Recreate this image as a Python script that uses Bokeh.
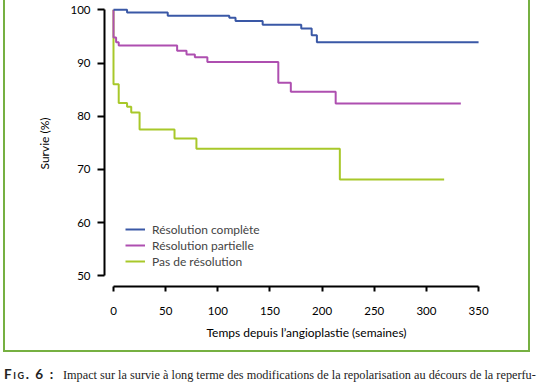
from bokeh.plotting import figure
from bokeh.models import Legend, LegendItem, FixedTicker, Range1d, Div
from bokeh.layouts import column
from bokeh.embed import file_html
from bokeh.resources import INLINE

# ---- data ----
complete_t = [0, 13, 52, 111, 117, 143, 180, 190, 195, 350]
complete_s = [100, 99.5, 98.9, 98.5, 97.9, 97.2, 96.5, 95.2, 93.9, 93.9]

partial_t = [0, 0, 2.5, 5, 61, 70, 78, 90, 158, 170, 213, 333]
partial_s = [100, 94.8, 93.9, 93.3, 92.3, 91.6, 91.1, 90.2, 86.3, 84.6, 82.4, 82.4]

none_t = [0, 0, 5, 13, 17, 25, 58.5, 79.5, 217, 317]
none_s = [100, 86.0, 82.5, 81.8, 80.7, 77.5, 75.8, 73.9, 68.1, 68.1]

series_labels = ["Résolution complète", "Résolution partielle", "Pas de résolution"]
x_ticks = [0, 50, 100, 150, 200, 250, 300, 350]
y_ticks = [50, 60, 70, 80, 90, 100]
x_title = "Temps depuis l’angioplastie (semaines)"
y_title = "Survie (%)"
caption_head = "Fig. 6 :"
caption_body = "Impact sur la survie à long terme des modifications de la repolarisation au décours de la reperfu-"

BLUE = "#3a58a6"
PURPLE = "#ae4fb0"
GREEN = "#a8c82a"
FRAME = "#76b041"
FONT = "Lato"

p = figure(width=527, height=352, output_backend="svg", toolbar_location=None,
           x_range=Range1d(-8.63, 378.7), y_range=Range1d(47.99, 101.75),
           min_border_left=99, min_border_right=24, min_border_top=0, min_border_bottom=66,
           styles={"margin-left": "3px",
                   "border-left": f"2px solid {FRAME}",
                   "border-right": f"2px solid {FRAME}",
                   "border-bottom": f"2px solid {FRAME}"})
p.outline_line_color = None
p.xgrid.grid_line_color = None
p.ygrid.grid_line_color = None
p.background_fill_color = None
p.border_fill_color = "white"

r_none = p.step(none_t, none_s, mode="after", line_color=GREEN, line_width=2)
r_part = p.step(partial_t, partial_s, mode="after", line_color=PURPLE, line_width=2)
r_comp = p.step(complete_t, complete_s, mode="after", line_color=BLUE, line_width=2)

for ax in (p.xaxis[0], p.yaxis[0]):
    ax.axis_line_width = 2
    ax.axis_line_color = "black"
    ax.major_tick_line_width = 2
    ax.major_tick_line_color = "black"
    ax.major_tick_in = 0
    ax.minor_tick_line_color = None
    ax.major_label_text_font = FONT
    ax.major_label_text_font_size = "11.5px"
    ax.major_label_text_color = "black"
    ax.axis_label_text_font = FONT
    ax.axis_label_text_font_size = "12px"
    ax.axis_label_text_font_style = "normal"
    ax.axis_label_text_color = "black"

xa = p.xaxis[0]
xa.bounds = (0, 350)
xa.ticker = FixedTicker(ticks=x_ticks)
xa.major_tick_out = 5
xa.major_label_standoff = 15
xa.axis_label = x_title
xa.axis_label_standoff = 7

ya = p.yaxis[0]
ya.bounds = (50, 100)
ya.ticker = FixedTicker(ticks=y_ticks)
ya.major_tick_out = 7
ya.major_label_standoff = 7
ya.axis_label = y_title
ya.axis_label_standoff = 15

legend = Legend(items=[LegendItem(label=series_labels[0], renderers=[r_comp]),
                       LegendItem(label=series_labels[1], renderers=[r_part]),
                       LegendItem(label=series_labels[2], renderers=[r_none])],
                location=(21, 17), background_fill_alpha=0, border_line_color=None,
                glyph_width=20, glyph_height=16, label_height=16, label_standoff=7,
                spacing=0, padding=0, margin=0,
                label_text_font=FONT, label_text_font_size="12px")
p.add_layout(legend)

caption = Div(
    text=(f'<span style="display:inline-block;width:59px;font-family:Lato;font-weight:bold;'
          f'font-variant:small-caps;letter-spacing:1.6px;font-size:13.5px">{caption_head}</span>'
          f'<span>{caption_body}</span>'),
    width=534, height=20,
    styles={"margin-left": "4px", "margin-top": "13px", "font-family": "Liberation Serif",
            "font-size": "12.25px", "white-space": "nowrap", "color": "#222"})

layout = column(p, caption, spacing=0)
open("out.html", "w").write(file_html(layout, INLINE))
